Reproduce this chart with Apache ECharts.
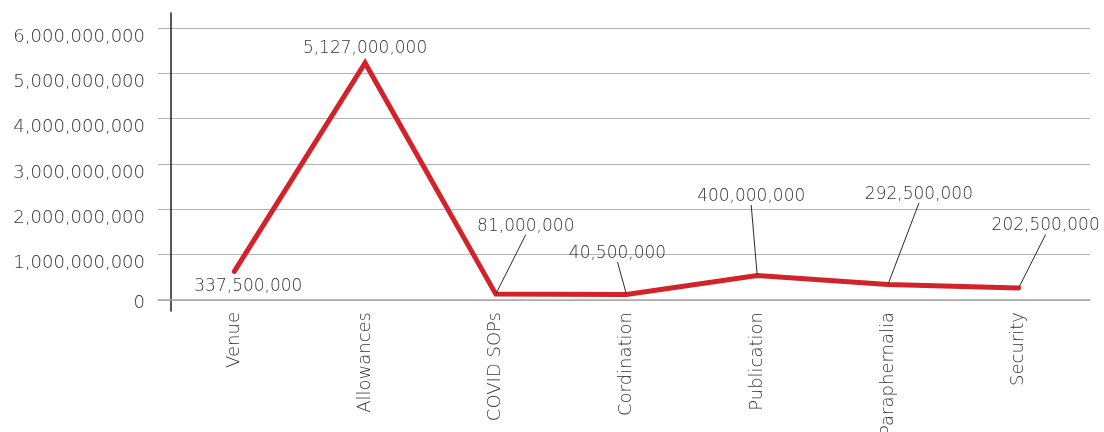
<!DOCTYPE html>
<html>
<head>
<meta charset="utf-8">
<script src="https://cdn.jsdelivr.net/npm/echarts@6/dist/echarts.min.js"></script>
<style>
html,body{margin:0;padding:0;background:#fff;}
#chart{width:1104px;height:432px;}
</style>
</head>
<body>
<div id="chart"></div>
<script>
// ---- data ----
const categories = ["Venue", "Allowances", "COVID SOPs", "Cordination", "Publication", "Paraphernalia", "Security"];
const plottedValues = [630000000, 5230000000, 130000000, 120000000, 540000000, 340000000, 265000000];
const labelTexts = ["337,500,000", "5,127,000,000", "81,000,000", "40,500,000", "400,000,000", "292,500,000", "202,500,000"];
const yTickLabels = ["0", "1,000,000,000", "2,000,000,000", "3,000,000,000", "4,000,000,000", "5,000,000,000", "6,000,000,000"];

// ---- styling ----
const labelOffsets = [[14, 15], [0, -14], [30, -68], [-9, -41], [-6, -79], [31, -90], [27, -62]];
const showLeader = [false, false, true, true, true, true, true];
const FONT = "'DejaVu Sans', sans-serif";
const TEXT = "#333333";

const chart = echarts.init(document.getElementById('chart'), null, {renderer: 'canvas'});
const option = {
  animation: false,
  backgroundColor: '#ffffff',
  grid: [
    {left: 158, right: 14, top: 28, height: 272, outerBoundsMode: 'none', containLabel: false},
    {left: 169, width: 915, top: 28, height: 272, outerBoundsMode: 'none', containLabel: false},
    {left: 170.5, width: 1, top: 13, height: 298, outerBoundsMode: 'none', containLabel: false}
  ],
  xAxis: [
    {gridIndex: 0, type: 'value', min: 0, max: 1,
      axisLine: {show: true, lineStyle: {color: '#a8a8a8', width: 1.5}},
      axisTick: {show: false}, axisLabel: {show: false}, splitLine: {show: false}},
    {gridIndex: 1, type: 'category', data: categories, boundaryGap: true,
      axisLine: {show: false}, axisTick: {show: false},
      axisLabel: {interval: 0, rotate: 90, margin: 12, fontSize: 18, fontFamily: FONT, fontWeight: 200, color: TEXT}},
    {gridIndex: 2, type: 'value', min: 0, max: 1, show: false}
  ],
  yAxis: [
    {gridIndex: 0, type: 'value', min: 0, max: 6000000000, interval: 1000000000,
      axisLine: {show: false}, axisTick: {show: false},
      splitLine: {show: true, lineStyle: {color: '#b4b4b4', width: 1}},
      axisLabel: {margin: 13, fontSize: 18, fontFamily: FONT, fontWeight: 200, color: TEXT,
        formatter: function (v) {
          const i = Math.round(v / 1000000000);
          return i === 0 ? '{z|' + yTickLabels[i] + '}' : '{n|' + yTickLabels[i] + '}';
        },
        rich: {
          n: {fontSize: 18, fontFamily: FONT, fontWeight: 200, color: TEXT, padding: [18, 0, 0, 0]},
          z: {fontSize: 18, fontFamily: FONT, fontWeight: 200, color: TEXT, padding: [6, 0, 0, 0]}
        }}},
    {gridIndex: 1, type: 'value', min: 0, max: 6000000000, show: false},
    {gridIndex: 2, type: 'value', min: 0, max: 1,
      axisLine: {show: true, lineStyle: {color: '#1e1e1e', width: 1.5}},
      axisTick: {show: false}, axisLabel: {show: false}, splitLine: {show: false}}
  ],
  series: [{
    type: 'line',
    xAxisIndex: 1, yAxisIndex: 1,
    data: plottedValues.map(function (v, i) {
      return {value: v, labelLine: {show: showLeader[i]}};
    }),
    symbol: 'circle', symbolSize: 2,
    itemStyle: {color: '#d2232a'},
    lineStyle: {color: '#d2232a', width: 5, cap: 'round', join: 'miter'},
    label: {
      show: true, position: 'inside',
      fontSize: 17, fontFamily: FONT, fontWeight: 200, color: TEXT,
      formatter: function (p) { return labelTexts[p.dataIndex]; }
    },
    labelLine: {show: true, lineStyle: {color: '#2a2a2a', width: 1}},
    labelLayout: function (p) {
      const o = labelOffsets[p.dataIndex];
      return {dx: o[0], dy: o[1]};
    },
    emphasis: {disabled: true}
  }]
};
chart.setOption(option);
</script>
</body>
</html>
